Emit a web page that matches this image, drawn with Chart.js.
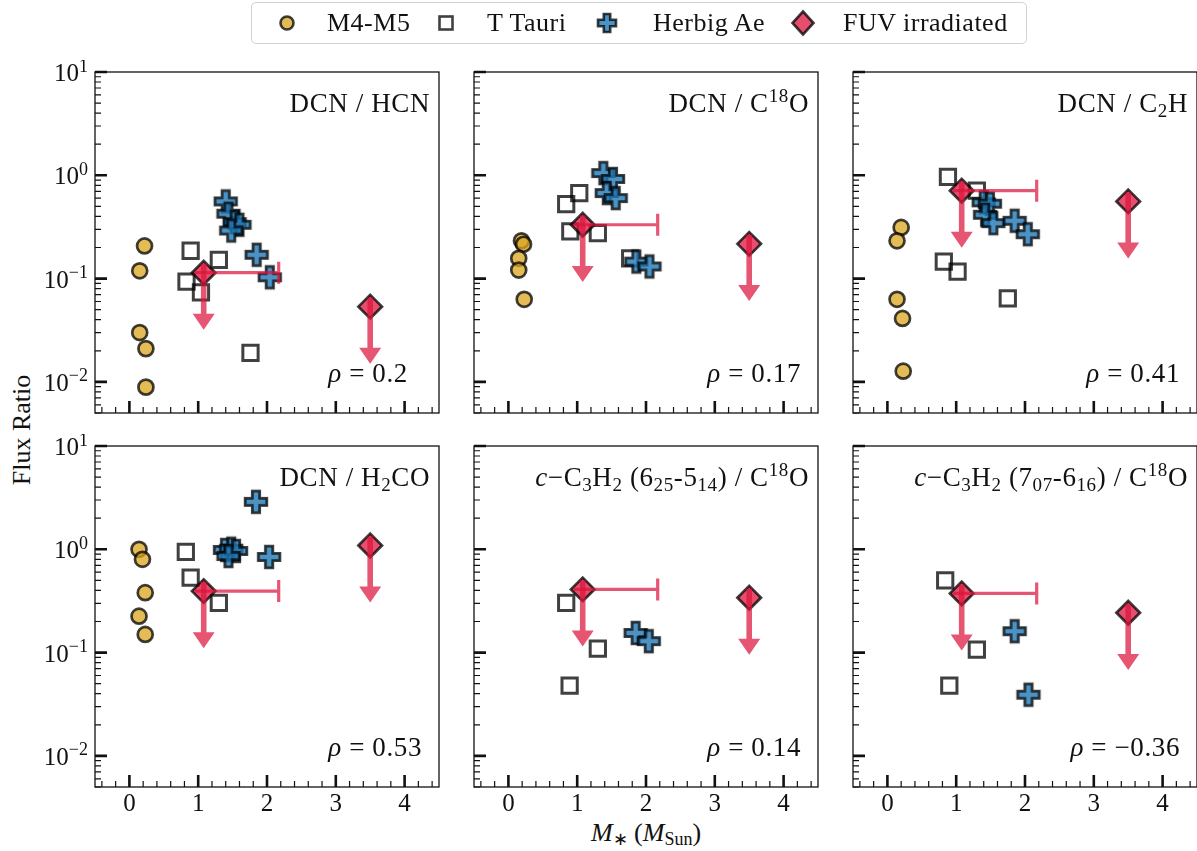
<!DOCTYPE html>
<html>
<head>
<meta charset="utf-8">
<title>Flux ratios vs stellar mass</title>
<script src="https://cdn.jsdelivr.net/npm/chart.js@4.4.1/dist/chart.umd.min.js"></script>
<style>
  body { margin: 0; background: #fff; overflow: hidden; }
  #fig { position: relative; width: 1197px; height: 851px; font-family: "Liberation Serif", serif; color: #111; }
  #fig canvas.panel { position: absolute; }
  #legend { position: absolute; left: 251px; top: 2px; width: 776px; height: 42px; box-sizing: border-box;
            border: 1.2px solid #d2d2d2; border-radius: 5px; background: #fff; }
  #legend canvas { position: absolute; left: 0; top: 0; }
  #legend span { position: absolute; top: 3px; font-size: 26px; line-height: 34px; white-space: nowrap; letter-spacing: 0.5px; }
  #xlabel { position: absolute; left: 546px; width: 200px; top: 818px; text-align: center; font-size: 26px; white-space: nowrap; }
  #xlabel sub { font-size: 18px; vertical-align: -4px; line-height: 0; }
  #ylabel { position: absolute; left: -38px; top: 415px; width: 120px; text-align: center; font-size: 26px;
            transform: rotate(-90deg); white-space: nowrap; }
</style>
</head>
<body>
<div id="fig">
  <div id="legend">
    <canvas id="legendMarks" width="776" height="42"></canvas>
    <span style="left:75px">M4-M5</span>
    <span style="left:235px">T Tauri</span>
    <span style="left:401px">Herbig Ae</span>
    <span style="left:591px">FUV irradiated</span>
  </div>
  <div id="ylabel">Flux Ratio</div>
  <div id="xlabel"><i>M</i><sub>∗</sub> (<i>M</i><sub>Sun</sub>)</div>
</div>

<script>
"use strict";

// ─── Data ──────────────────────────────────────────────────
// panel order: DCN/HCN, DCN/C18O, DCN/C2H, DCN/H2CO, c-C3H2 (6-5)/C18O, c-C3H2 (7-6)/C18O
const panelTitles = [
  [["DCN / HCN", "n"]],
  [["DCN / C", "n"], ["18", "p"], ["O", "n"]],
  [["DCN / C", "n"], ["2", "b"], ["H", "n"]],
  [["DCN / H", "n"], ["2", "b"], ["CO", "n"]],
  [["c", "i"], ["\u2212C", "n"], ["3", "b"], ["H", "n"], ["2", "b"], [" (6", "n"], ["25", "b"], ["-5", "n"], ["14", "b"], [") / C", "n"], ["18", "p"], ["O", "n"]],
  [["c", "i"], ["\u2212C", "n"], ["3", "b"], ["H", "n"], ["2", "b"], [" (7", "n"], ["07", "b"], ["-6", "n"], ["16", "b"], [") / C", "n"], ["18", "p"], ["O", "n"]],
];
const rhoValues = ["0.2", "0.17", "0.41", "0.53", "0.14", "\u22120.36"];

const m4Mass = [
  [0.22, 0.15, 0.15, 0.24, 0.24],
  [0.19, 0.22, 0.15, 0.15, 0.23],
  [0.20, 0.14, 0.14, 0.22, 0.23],
  [0.14, 0.19, 0.23, 0.14, 0.23],
  [],
  [],
];
const m4Ratio = [
  [0.207, 0.119, 0.030, 0.021, 0.0089],
  [0.232, 0.215, 0.157, 0.121, 0.063],
  [0.313, 0.232, 0.063, 0.0412, 0.0127],
  [1.0, 0.80, 0.38, 0.225, 0.150],
  [],
  [],
];

const ttauriMass = [
  [0.89, 1.30, 0.83, 1.04, 1.76],
  [1.03, 0.84, 0.90, 1.30, 1.77],
  [0.88, 1.30, 0.82, 1.02, 1.75],
  [0.82, 0.89, 1.30],
  [0.84, 1.30, 0.89],
  [0.84, 1.30, 0.90],
];
const ttauriRatio = [
  [0.186, 0.152, 0.0935, 0.0737, 0.0191],
  [0.673, 0.527, 0.286, 0.275, 0.157],
  [0.964, 0.710, 0.146, 0.117, 0.0644],
  [0.942, 0.531, 0.303],
  [0.303, 0.109, 0.0478],
  [0.500, 0.107, 0.0478],
];

const herbigMass = [
  [1.40, 1.44, 1.53, 1.60, 1.48, 1.85, 2.04],
  [1.38, 1.52, 1.43, 1.56, 1.86, 2.05],
  [1.40, 1.49, 1.42, 1.54, 1.85, 2.04],
  [1.39, 1.48, 1.55, 1.44, 1.84, 2.03],
  [1.85, 2.04],
  [1.85, 2.05],
];
const herbigRatio = [
  [0.559, 0.425, 0.352, 0.332, 0.292, 0.170, 0.103],
  [1.05, 0.921, 0.673, 0.602, 0.146, 0.131],
  [0.547, 0.531, 0.415, 0.344, 0.363, 0.269],
  [0.985, 1.015, 0.963, 0.861, 2.88, 0.843],
  [0.155, 0.129],
  [0.161, 0.0391],
];

// FUV irradiated discs: upper limits only
const fuvMass   = [1.08, 3.5];
const fuvMassHi = [2.17, null];   // upper end of the mass range
const fuvLimit = [
  [0.114, 0.0535],
  [0.332, 0.217],
  [0.710, 0.559],
  [0.394, 1.09],
  [0.409, 0.340],
  [0.374, 0.243],
];

// axis ticks
const xMajor = [0, 1, 2, 3, 4];
const yMajor = [0.01, 0.1, 1, 10];
const yExp   = ["\u22122", "\u22121", "0", "1"];

// ─── Style ─────────────────────────────────────────────────
const FONT    = '"Liberation Serif", serif';
const EDGE    = "rgba(0,0,0,0.75)";
const GOLD    = "rgba(218,165,32,0.75)";
const BLUE    = "rgba(31,119,180,0.8)";
const RED     = "rgba(220,20,60,0.75)";
const LIMIT   = "rgba(220,20,60,0.72)";
const ARROW_DROP = 0.28;   // arrow tip sits at value * ARROW_DROP

const PLOT_W = 344, PLOT_H = 341;
const colLeft = [95, 474, 853];
const rowTop  = [72, 446];

// ─── Marker helpers ────────────────────────────────────────
function tracePlus(g, cx, cy, s, a) {
  g.beginPath();
  g.moveTo(cx - a, cy - s); g.lineTo(cx + a, cy - s); g.lineTo(cx + a, cy - a);
  g.lineTo(cx + s, cy - a); g.lineTo(cx + s, cy + a); g.lineTo(cx + a, cy + a);
  g.lineTo(cx + a, cy + s); g.lineTo(cx - a, cy + s); g.lineTo(cx - a, cy + a);
  g.lineTo(cx - s, cy + a); g.lineTo(cx - s, cy - a); g.lineTo(cx - a, cy - a);
  g.closePath();
}

function plusMarker(s, a, lw) {
  const c = document.createElement("canvas");
  const n = 2 * Math.ceil(s + lw);
  c.width = c.height = n;
  const g = c.getContext("2d");
  tracePlus(g, n / 2, n / 2, s, a);
  g.fillStyle = BLUE; g.fill();
  g.lineWidth = lw; g.strokeStyle = EDGE; g.stroke();
  return c;
}
const PLUS_IMG = plusMarker(10.8, 3.7, 2.8);

const pts = (xs, ys) => xs.map((x, i) => ({ x, y: ys[i] }));

// rich text: [text, kind] with kind n=normal, i=italic, b=subscript, p=superscript
function richFont(kind, size) {
  const small = kind === "b" || kind === "p";
  return (kind === "i" ? "italic " : "") + (small ? Math.round(size * 0.7) : size) + "px " + FONT;
}
function richWidth(ctx, segs, size) {
  return segs.reduce((w, [t, k]) => { ctx.font = richFont(k, size); return w + ctx.measureText(t).width; }, 0);
}
function drawRich(ctx, segs, xRight, baseline, size) {
  let x = xRight - richWidth(ctx, segs, size);
  ctx.textAlign = "left";
  ctx.textBaseline = "alphabetic";
  segs.forEach(([t, k]) => {
    ctx.font = richFont(k, size);
    const dy = k === "b" ? size * 0.2 : k === "p" ? -size * 0.38 : 0;
    ctx.fillText(t, x, baseline + dy);
    x += ctx.measureText(t).width;
  });
}

// ─── Plugins ───────────────────────────────────────────────
// frame, inward ticks and tick labels
const frameAxes = {
  id: "frameAxes",
  afterDraw(chart, args, opts) {
    const { ctx, chartArea: { left, right, top, bottom }, scales: { x, y } } = chart;
    ctx.save();
    ctx.strokeStyle = "#111";
    ctx.fillStyle = "#111";

    // minor ticks
    ctx.lineWidth = 1.2;
    ctx.beginPath();
    for (let v = -0.4; v < 4.5; v += 0.2) {
      if (Math.abs(v - Math.round(v)) < 1e-6) continue;
      const px = x.getPixelForValue(v);
      ctx.moveTo(px, bottom); ctx.lineTo(px, bottom - 6);
    }
    [0.001, 0.01, 0.1, 1].forEach(d => {
      for (let k = 2; k <= 9; k++) {
        const v = d * k;
        if (v < y.min || v > y.max) continue;
        const py = y.getPixelForValue(v);
        ctx.moveTo(left, py); ctx.lineTo(left + 6, py);
      }
    });
    ctx.stroke();

    // major ticks
    ctx.lineWidth = 2.6;
    ctx.beginPath();
    xMajor.forEach(v => {
      const px = x.getPixelForValue(v);
      ctx.moveTo(px, bottom); ctx.lineTo(px, bottom - 12);
    });
    yMajor.forEach(v => {
      const py = y.getPixelForValue(v);
      ctx.moveTo(left, py); ctx.lineTo(left + 12, py);
    });
    ctx.stroke();

    // frame
    ctx.lineWidth = 1.3;
    ctx.strokeRect(left, top, right - left, bottom - top);

    // tick labels
    if (opts.xLabels) {
      ctx.font = "25px " + FONT;
      ctx.textAlign = "center";
      ctx.textBaseline = "alphabetic";
      xMajor.forEach(v => ctx.fillText(String(v), x.getPixelForValue(v), bottom + 24));
    }
    if (opts.yLabels) {
      yMajor.forEach((v, k) => {
        drawRich(ctx, [["10", "n"], [yExp[k], "p"]], left - 7, y.getPixelForValue(v) + 9, 25);
      });
    }

    // panel title and correlation coefficient
    ctx.letterSpacing = "0.6px";
    drawRich(ctx, panelTitles[opts.panel], right - 9, top + 40, 27);
    const rho = rhoValues[opts.panel];
    const decimals = rho.split(".")[1].length;
    ctx.font = "27px " + FONT;
    const pad = (2 - decimals) * ctx.measureText("0").width;
    drawRich(ctx, [["\u03c1", "i"], [" = " + rho, "n"]], right - 17 - pad, bottom - 31, 27);
    ctx.restore();
  },
};

// upper-limit arrows and mass range for the FUV irradiated discs
const fuvMarks = {
  id: "fuvMarks",
  afterDatasetsDraw(chart, args, opts) {
    const { ctx, scales: { x, y } } = chart;
    ctx.save();
    ctx.strokeStyle = LIMIT;
    ctx.fillStyle = LIMIT;
    fuvMass.forEach((m, k) => {
      const v = fuvLimit[opts.panel][k];
      const px = x.getPixelForValue(m);
      const py = y.getPixelForValue(v);

      if (fuvMassHi[k] !== null) {
        const px2 = x.getPixelForValue(fuvMassHi[k]);
        ctx.lineWidth = 3.2;
        ctx.beginPath();
        ctx.moveTo(px - 9, py); ctx.lineTo(px2, py);
        ctx.moveTo(px2, py - 11); ctx.lineTo(px2, py + 11);
        ctx.stroke();
      }

      const tip = y.getPixelForValue(v * ARROW_DROP);
      const head = 16, hw = 11, sw = 2.8;
      ctx.beginPath();
      ctx.moveTo(px - sw, py - 9);
      ctx.lineTo(px + sw, py - 9);
      ctx.lineTo(px + sw, tip - head);
      ctx.lineTo(px + hw, tip - head);
      ctx.lineTo(px, tip);
      ctx.lineTo(px - hw, tip - head);
      ctx.lineTo(px - sw, tip - head);
      ctx.closePath();
      ctx.fill();
    });
    ctx.restore();
  },
};

// ─── Panels ────────────────────────────────────────────────
const fig = document.getElementById("fig");

function buildPanel(i) {
  const row = Math.floor(i / 3), col = i % 3;
  const pad = { left: col === 0 ? 95 : 12, right: 4, top: 12, bottom: row === 1 ? 45 : 12 };
  const cv = document.createElement("canvas");
  cv.className = "panel";
  cv.width = PLOT_W + pad.left + pad.right;
  cv.height = PLOT_H + pad.top + pad.bottom;
  cv.style.left = (colLeft[col] - pad.left) + "px";
  cv.style.top = (rowTop[row] - pad.top) + "px";
  fig.appendChild(cv);

  const common = { showLine: false, pointBorderColor: EDGE, pointBorderWidth: 2.7, pointHoverRadius: 0 };

  new Chart(cv, {
    type: "scatter",
    data: {
      datasets: [
        { ...common, label: "M4-M5", order: 4, data: pts(m4Mass[i], m4Ratio[i]),
          pointStyle: "circle", pointRadius: 7.5, pointBackgroundColor: GOLD },
        { ...common, label: "T Tauri", order: 3, data: pts(ttauriMass[i], ttauriRatio[i]),
          pointStyle: "rect", pointRadius: 10.8, pointBorderWidth: 3, pointBackgroundColor: "rgba(0,0,0,0)" },
        { ...common, label: "Herbig Ae", order: 2, data: pts(herbigMass[i], herbigRatio[i]),
          pointStyle: PLUS_IMG, pointRadius: 10 },
        { ...common, label: "FUV irradiated", order: 1, data: pts(fuvMass, fuvLimit[i]),
          pointStyle: "rectRot", pointRadius: 11.8, pointBackgroundColor: RED },
      ],
    },
    options: {
      responsive: false,
      animation: false,
      events: [],
      clip: false,
      layout: { padding: pad, autoPadding: false },
      scales: {
        x: { type: "linear", display: false, min: -0.5, max: 4.5 },
        y: { type: "logarithmic", display: false, min: 0.005, max: 10 },
      },
      plugins: {
        legend: { display: false },
        tooltip: { enabled: false },
        frameAxes: { panel: i, xLabels: row === 1, yLabels: col === 0 },
        fuvMarks: { panel: i },
      },
    },
    plugins: [fuvMarks, frameAxes],
  });
}

for (let i = 0; i < 6; i++) buildPanel(i);

// ─── Legend markers ────────────────────────────────────────
(function drawLegendMarks() {
  const g = document.getElementById("legendMarks").getContext("2d");
  const cy = 20;
  g.lineWidth = 2.6;
  g.strokeStyle = EDGE;

  g.beginPath(); g.arc(35, cy, 6.5, 0, Math.PI * 2);
  g.fillStyle = GOLD; g.fill(); g.stroke();

  g.strokeRect(194 - 6.5, cy - 6.5, 13, 13);

  tracePlus(g, 355, cy, 9, 3.2);
  g.fillStyle = BLUE; g.fill(); g.stroke();

  g.beginPath();
  g.moveTo(551, cy - 11.5); g.lineTo(561.5, cy); g.lineTo(551, cy + 11.5); g.lineTo(540.5, cy);
  g.closePath();
  g.fillStyle = RED; g.fill(); g.stroke();
})();
</script>
</body>
</html>
